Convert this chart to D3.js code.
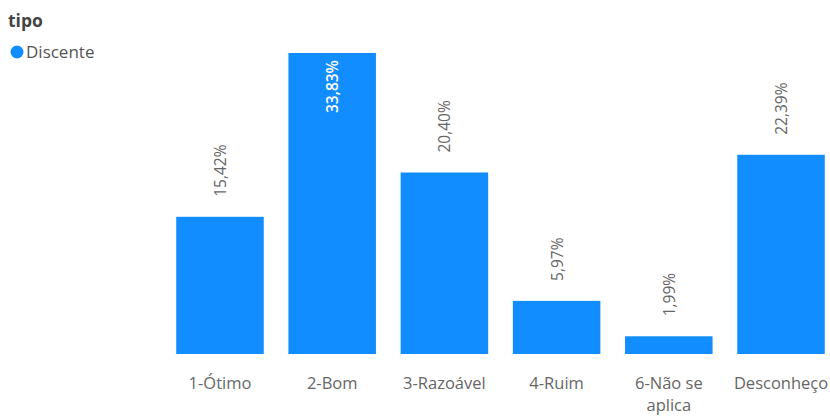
<!DOCTYPE html>
<html><head><meta charset="utf-8">
<script src="https://cdn.jsdelivr.net/npm/d3@7"></script>
<style>body{margin:0;background:#fff;font-family:"Open Sans","Noto Sans",sans-serif;}</style>
</head><body><svg id="c" width="830" height="416"></svg>
<script>
const categories = ["1-Ótimo","2-Bom","3-Razoável","4-Ruim","6-Não se aplica","Desconheço"];
const values = [15.42,33.83,20.40,5.97,1.99,22.39];
const legendTitle = "tipo";
const seriesName = "Discente";
const color = "#118DFF";

const svg = d3.select("#c");
const x = d3.scaleBand().domain(categories).range([165,836]).paddingInner(0.22).paddingOuter(0.1);
const y = d3.scaleLinear().domain([0,33.83]).range([354,53]);
const fmt = v => d3.format(".2f")(v).replace(".", ",") + "%";

svg.append("g").selectAll("rect").data(values).join("rect")
  .attr("x",(d,i)=>x(categories[i])).attr("width",x.bandwidth())
  .attr("y",d=>y(d)).attr("height",d=>y(0)-y(d)).attr("fill",color);

svg.append("g").selectAll("text").data(values).join("text")
  .each(function(d,i){
    const cx = x(categories[i]) + x.bandwidth()/2;
    const inside = y(d) < 100;
    const t = d3.select(this);
    if (inside) {
      t.attr("transform",`translate(${cx+6},${y(d)+7}) rotate(-90)`)
       .attr("text-anchor","end").attr("fill","#fff").attr("font-weight","600");
    } else {
      t.attr("transform",`translate(${cx+6},${y(d)-20}) rotate(-90)`)
       .attr("text-anchor","start").attr("fill","#666");
    }
  })
  .attr("font-size","15.5px").text(d=>fmt(d));

const xa = svg.append("g").attr("transform","translate(0,354)")
  .call(d3.axisBottom(x).tickSize(0).tickPadding(0).tickFormat(""));
xa.select(".domain").remove();
xa.selectAll(".tick").each(function(c){
  const g = d3.select(this);
  const parts = c === "6-Não se aplica" ? ["6-Não se","aplica"] : [c];
  const t = g.append("text").attr("fill","#666").attr("font-size","16.5px")
    .attr("text-anchor","middle").attr("font-family","'Open Sans','Noto Sans',sans-serif");
  parts.forEach((p,k)=>t.append("tspan").attr("x",0).attr("y",35+k*22).text(p));
});

svg.append("text").attr("x",8).attr("y",27).attr("font-size","17.5px").attr("font-weight","bold")
  .attr("fill","#444").text(legendTitle);
svg.append("circle").attr("cx",17).attr("cy",52).attr("r",6.5).attr("fill",color);
svg.append("text").attr("x",26).attr("y",58).attr("font-size","17px").attr("fill","#555").text(seriesName);
</script></body></html>
